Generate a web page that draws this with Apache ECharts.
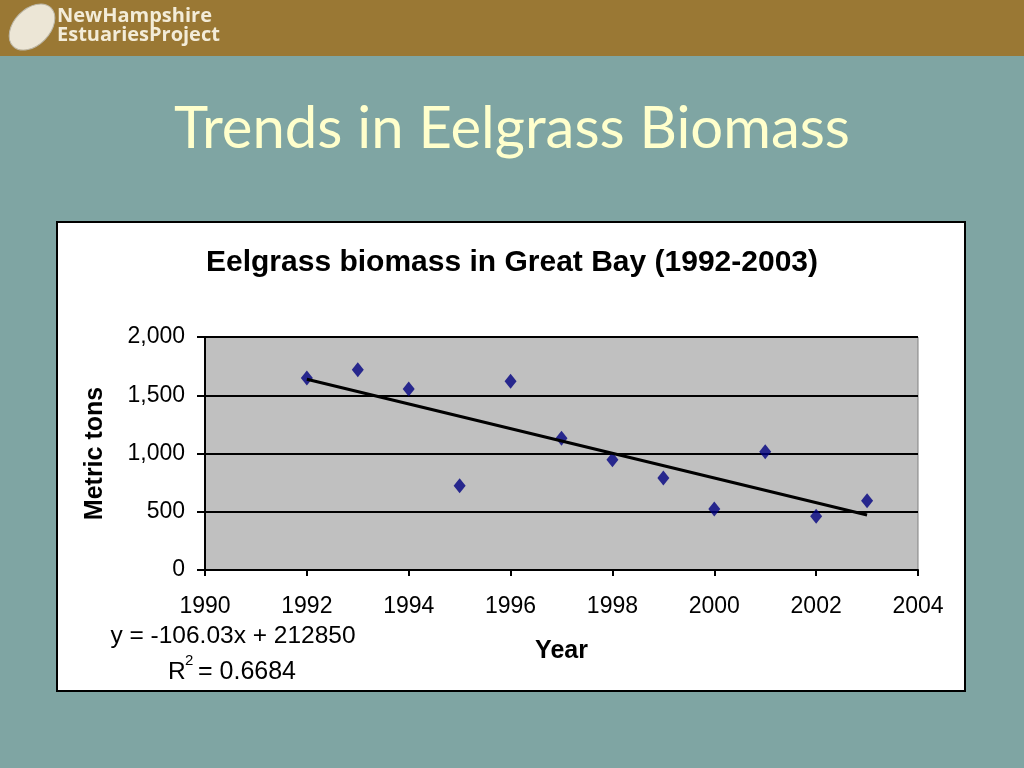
<!DOCTYPE html>
<html>
<head>
<meta charset="utf-8">
<style>
html,body{margin:0;padding:0;width:1024px;height:768px;overflow:hidden;background:#7fa5a3;}
#c{width:1024px;height:768px;}
</style>
<script src="https://cdn.jsdelivr.net/npm/echarts@6/dist/echarts.min.js"></script>
</head>
<body>
<div id="c"></div>
<script>
var years = [1992, 1993, 1994, 1995, 1996, 1997, 1998, 1999, 2000, 2001, 2002, 2003];
var biomass = [1648, 1719, 1554, 724, 1620, 1130, 947, 790, 524, 1016, 461, 595];
var trendYears = [1992, 2003];
var trendValues = [1638, 472];
var yTickLabels = {0: '0', 500: '500', 1000: '1,000', 1500: '1,500', 2000: '2,000'};
var slideTitle = 'Trends in Eelgrass Biomass';
var chartTitle = 'Eelgrass biomass in Great Bay (1992-2003)';
var equationText = 'y = -106.03x + 212850';
var r2Label = 'R';
var r2Sup = '2';
var r2Value = '= 0.6684';

var chart = echarts.init(document.getElementById('c'));
var F = '"Liberation Sans", Arial, sans-serif';
chart.setOption({
  backgroundColor: '#7fa5a3',
  animation: false,
  title: [
    {text: slideTitle, left: 'center', top: 95,
     textStyle: {fontFamily: 'Lato, "Open Sans", sans-serif', fontWeight: 'normal', fontSize: 58, color: '#ffffcc'}},
    {text: chartTitle, left: 'center', top: 243,
     textStyle: {fontFamily: F, fontWeight: 'bold', fontSize: 30, color: '#000'}}
  ],
  graphic: [
    {type: 'rect', z: -10, shape: {x: 0, y: 0, width: 1024, height: 56}, style: {fill: '#9a7834'}},
    {type: 'ellipse', z: -9, x: 32, y: 27, rotation: 0.8, shape: {cx: 0, cy: 0, rx: 27, ry: 18},
     style: {fill: '#ece6d6', stroke: '#bdb8a8', lineWidth: 1}},
    {type: 'text', z: -9, left: 57, top: 6, style: {text: 'NewHampshire', fill: '#f3ecd8', font: 'bold 20px "Open Sans", sans-serif'}},
    {type: 'text', z: -9, left: 57, top: 25, style: {text: 'EstuariesProject', fill: '#f3ecd8', font: 'bold 20px "Open Sans", sans-serif'}},
    {type: 'rect', z: -10, shape: {x: 57, y: 222, width: 908, height: 469},
     style: {fill: '#ffffff', stroke: '#000000', lineWidth: 2}},
    {type: 'text', z: 5, x: 233, y: 636, style: {text: equationText, fill: '#000', font: '24.5px ' + F, align: 'center', verticalAlign: 'middle'}},
    {type: 'text', z: 5, x: 168, y: 672, style: {text: r2Label, fill: '#000', font: '24.5px ' + F, align: 'left', verticalAlign: 'middle'}},
    {type: 'text', z: 5, x: 185, y: 661, style: {text: r2Sup, fill: '#000', font: '15px ' + F, align: 'left', verticalAlign: 'middle'}},
    {type: 'text', z: 5, x: 198, y: 672, style: {text: r2Value, fill: '#000', font: '25px ' + F, align: 'left', verticalAlign: 'middle'}}
  ],
  grid: {left: 205, right: 106, top: 337, bottom: 198, show: true, backgroundColor: '#c0c0c0', borderColor: '#808080', borderWidth: 1},
  xAxis: {
    type: 'value', min: 1990, max: 2004, interval: 2,
    name: 'Year', nameLocation: 'middle', nameGap: 69,
    nameTextStyle: {fontFamily: F, fontWeight: 'bold', fontSize: 25, color: '#000'},
    axisLine: {show: true, onZero: false, lineStyle: {color: '#000', width: 2}},
    axisTick: {show: true, length: 6, lineStyle: {color: '#000', width: 2}},
    axisLabel: {fontFamily: F, fontSize: 23, color: '#000', margin: 25, formatter: function (v) { return String(v); }},
    splitLine: {show: false}
  },
  yAxis: {
    type: 'value', min: 0, max: 2000, interval: 500,
    name: 'Metric tons', nameLocation: 'middle', nameGap: 97, nameRotate: 90,
    nameTextStyle: {fontFamily: F, fontWeight: 'bold', fontSize: 25, color: '#000'},
    axisLine: {show: true, lineStyle: {color: '#000', width: 2}},
    axisTick: {show: true, length: 8, lineStyle: {color: '#000', width: 2}},
    axisLabel: {fontFamily: F, fontSize: 23, color: '#000', margin: 20, formatter: function (v) { return yTickLabels[v]; }},
    splitLine: {show: true, lineStyle: {color: '#000', width: 2}}
  },
  series: [
    {type: 'scatter', symbol: 'diamond', symbolSize: [12, 15], z: 3,
     itemStyle: {color: '#000080'},
     data: years.map(function (y, i) { return [y, biomass[i]]; })},
    {type: 'line', symbol: 'none', z: 4, lineStyle: {color: '#000', width: 3},
     data: trendYears.map(function (y, i) { return [y, trendValues[i]]; })}
  ]
});
</script>
</body>
</html>
